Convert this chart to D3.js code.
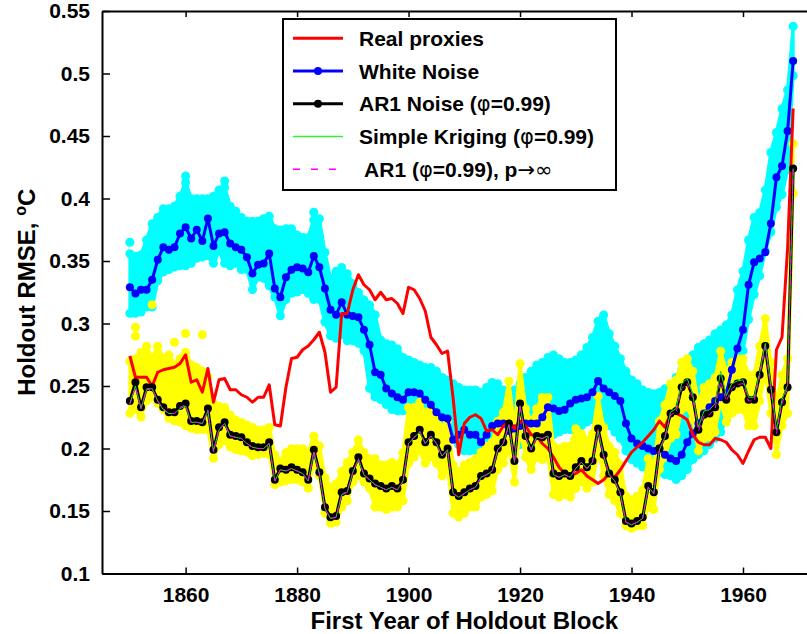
<!DOCTYPE html>
<html>
<head>
<meta charset="utf-8">
<script src="https://cdn.jsdelivr.net/npm/d3@7"></script>
<style>
body { margin: 0; background: #fff; }
svg { display: block; font-family: "Liberation Sans", Arial, Helvetica, sans-serif; font-weight: bold; }
</style>
</head>
<body>
<svg id="chart" width="807" height="634"></svg>
<script>
// first year of each holdout block
const years = d3.range(1850, 1970)

const realProxies = [
    0.274, 0.257, 0.257, 0.257, 0.250, 0.261, 0.263, 0.264, 0.265, 0.268,
    0.275, 0.253, 0.255, 0.245, 0.264, 0.237, 0.255, 0.256, 0.247, 0.247,
    0.243, 0.241, 0.237, 0.241, 0.241, 0.251, 0.219, 0.218, 0.249, 0.272,
    0.273, 0.279, 0.282, 0.287, 0.293, 0.277, 0.245, 0.249, 0.308, 0.308,
    0.327, 0.339, 0.331, 0.327, 0.319, 0.325, 0.319, 0.320, 0.316, 0.308,
    0.329, 0.327, 0.320, 0.310, 0.289, 0.283, 0.276, 0.278, 0.240, 0.195,
    0.220, 0.225, 0.227, 0.224, 0.214, 0.215, 0.211, 0.218, 0.222, 0.216,
    0.222, 0.218, 0.211, 0.210, 0.204, 0.200, 0.193, 0.185, 0.180, 0.178,
    0.180, 0.183, 0.178, 0.175, 0.172, 0.175, 0.180, 0.177, 0.183, 0.190,
    0.197, 0.201, 0.205, 0.210, 0.215, 0.222, 0.217, 0.228, 0.228, 0.226,
    0.223, 0.211, 0.205, 0.203, 0.203, 0.208, 0.207, 0.205, 0.199, 0.195,
    0.188, 0.198, 0.207, 0.209, 0.209, 0.200, 0.279, 0.289, 0.360, 0.472
]

const whiteNoise = [
    0.329, 0.324, 0.327, 0.327, 0.335, 0.351, 0.361, 0.359, 0.361, 0.372,
    0.377, 0.368, 0.375, 0.366, 0.384, 0.362, 0.372, 0.373, 0.364, 0.361,
    0.359, 0.353, 0.340, 0.347, 0.348, 0.356, 0.328, 0.321, 0.337, 0.343,
    0.345, 0.344, 0.341, 0.354, 0.345, 0.328, 0.311, 0.307, 0.317, 0.307,
    0.306, 0.305, 0.295, 0.283, 0.261, 0.259, 0.248, 0.244, 0.241, 0.239,
    0.245, 0.245, 0.244, 0.239, 0.235, 0.229, 0.225, 0.224, 0.207, 0.211,
    0.215, 0.211, 0.211, 0.205, 0.211, 0.218, 0.220, 0.220, 0.214, 0.216,
    0.218, 0.220, 0.220, 0.220, 0.225, 0.233, 0.232, 0.230, 0.231, 0.236,
    0.239, 0.240, 0.241, 0.245, 0.254, 0.248, 0.245, 0.242, 0.238, 0.220,
    0.208, 0.204, 0.202, 0.200, 0.198, 0.200, 0.195, 0.192, 0.190, 0.195,
    0.205, 0.212, 0.220, 0.228, 0.233, 0.238, 0.241, 0.244, 0.263, 0.280,
    0.295, 0.331, 0.349, 0.352, 0.357, 0.380, 0.417, 0.426, 0.454, 0.510
]

const ar1Noise = [
    0.238, 0.253, 0.233, 0.249, 0.249, 0.239, 0.233, 0.229, 0.229, 0.234,
    0.236, 0.222, 0.222, 0.221, 0.232, 0.199, 0.217, 0.221, 0.211, 0.210,
    0.209, 0.205, 0.202, 0.201, 0.201, 0.205, 0.175, 0.184, 0.183, 0.185,
    0.183, 0.181, 0.175, 0.199, 0.181, 0.153, 0.145, 0.146, 0.165, 0.166,
    0.182, 0.193, 0.180, 0.176, 0.172, 0.170, 0.168, 0.170, 0.168, 0.175,
    0.205, 0.210, 0.215, 0.205, 0.211, 0.205, 0.195, 0.200, 0.165, 0.162,
    0.165, 0.168, 0.170, 0.178, 0.180, 0.183, 0.200, 0.205, 0.220, 0.190,
    0.236, 0.210, 0.200, 0.210, 0.209, 0.211, 0.180, 0.178, 0.180, 0.178,
    0.185, 0.190, 0.185, 0.190, 0.216, 0.195, 0.180, 0.175, 0.165, 0.142,
    0.140, 0.142, 0.145, 0.170, 0.165, 0.200, 0.210, 0.228, 0.230, 0.249,
    0.253, 0.241, 0.215, 0.227, 0.228, 0.233, 0.256, 0.239, 0.249, 0.252,
    0.253, 0.239, 0.239, 0.259, 0.282, 0.247, 0.213, 0.237, 0.249, 0.424
]

const kriging = [
    0.236, 0.250, 0.232, 0.247, 0.248, 0.238, 0.231, 0.228, 0.228, 0.232,
    0.234, 0.221, 0.221, 0.220, 0.230, 0.198, 0.215, 0.220, 0.210, 0.209,
    0.208, 0.204, 0.201, 0.200, 0.200, 0.204, 0.174, 0.183, 0.182, 0.184,
    0.182, 0.180, 0.174, 0.197, 0.180, 0.152, 0.144, 0.145, 0.163, 0.165,
    0.181, 0.191, 0.179, 0.175, 0.171, 0.169, 0.167, 0.169, 0.167, 0.174,
    0.204, 0.209, 0.213, 0.204, 0.210, 0.204, 0.194, 0.199, 0.164, 0.161,
    0.164, 0.167, 0.169, 0.177, 0.179, 0.182, 0.199, 0.204, 0.219, 0.189,
    0.234, 0.209, 0.199, 0.209, 0.208, 0.210, 0.179, 0.177, 0.179, 0.177,
    0.184, 0.189, 0.184, 0.189, 0.214, 0.194, 0.179, 0.174, 0.164, 0.141,
    0.139, 0.141, 0.144, 0.169, 0.164, 0.199, 0.209, 0.229, 0.232, 0.252,
    0.256, 0.243, 0.217, 0.230, 0.231, 0.236, 0.262, 0.242, 0.252, 0.254,
    0.255, 0.241, 0.241, 0.261, 0.284, 0.250, 0.215, 0.239, 0.251, 0.424
]

const ar1Limit = [
    0.235, 0.249, 0.232, 0.248, 0.248, 0.238, 0.232, 0.228, 0.228, 0.233,
    0.235, 0.221, 0.221, 0.220, 0.231, 0.197, 0.216, 0.220, 0.210, 0.209,
    0.208, 0.204, 0.201, 0.200, 0.200, 0.204, 0.174, 0.183, 0.182, 0.184,
    0.182, 0.180, 0.174, 0.198, 0.180, 0.152, 0.144, 0.145, 0.164, 0.165,
    0.181, 0.192, 0.179, 0.175, 0.171, 0.169, 0.167, 0.169, 0.167, 0.174,
    0.204, 0.209, 0.214, 0.204, 0.210, 0.204, 0.194, 0.199, 0.164, 0.161,
    0.164, 0.167, 0.169, 0.177, 0.179, 0.182, 0.199, 0.204, 0.219, 0.189,
    0.235, 0.209, 0.199, 0.209, 0.208, 0.210, 0.179, 0.177, 0.179, 0.177,
    0.184, 0.189, 0.184, 0.189, 0.215, 0.194, 0.179, 0.174, 0.164, 0.141,
    0.139, 0.141, 0.144, 0.169, 0.164, 0.199, 0.209, 0.227, 0.229, 0.248,
    0.252, 0.240, 0.214, 0.226, 0.227, 0.232, 0.254, 0.238, 0.248, 0.251,
    0.252, 0.238, 0.238, 0.258, 0.281, 0.246, 0.212, 0.236, 0.248, 0.423
]

// spread of the white noise simulations (cyan cloud)
const whiteHi = [
    0.359, 0.357, 0.358, 0.370, 0.383, 0.388, 0.395, 0.395, 0.397, 0.405,
    0.416, 0.403, 0.403, 0.403, 0.403, 0.405, 0.410, 0.412, 0.397, 0.393,
    0.388, 0.385, 0.385, 0.385, 0.387, 0.389, 0.379, 0.378, 0.379, 0.379,
    0.374, 0.372, 0.372, 0.386, 0.387, 0.360, 0.339, 0.345, 0.348, 0.343,
    0.335, 0.328, 0.322, 0.318, 0.310, 0.290, 0.287, 0.286, 0.283, 0.276,
    0.274, 0.272, 0.270, 0.268, 0.268, 0.265, 0.260, 0.258, 0.255, 0.252,
    0.250, 0.250, 0.250, 0.248, 0.252, 0.256, 0.255, 0.250, 0.245, 0.250,
    0.255, 0.260, 0.265, 0.270, 0.272, 0.276, 0.278, 0.275, 0.272, 0.272,
    0.274, 0.278, 0.284, 0.292, 0.305, 0.310, 0.295, 0.285, 0.275, 0.265,
    0.258, 0.255, 0.250, 0.248, 0.247, 0.248, 0.251, 0.250, 0.260, 0.266,
    0.272, 0.278, 0.284, 0.287, 0.290, 0.295, 0.298, 0.302, 0.310, 0.330,
    0.345, 0.370, 0.388, 0.392, 0.410, 0.440, 0.456, 0.475, 0.490, 0.541
]
const whiteLo = [
    0.305, 0.305, 0.306, 0.310, 0.310, 0.331, 0.338, 0.340, 0.342, 0.343,
    0.343, 0.345, 0.349, 0.350, 0.351, 0.345, 0.355, 0.345, 0.343, 0.345,
    0.340, 0.340, 0.324, 0.334, 0.333, 0.327, 0.318, 0.303, 0.316, 0.321,
    0.322, 0.324, 0.321, 0.316, 0.316, 0.298, 0.287, 0.285, 0.288, 0.283,
    0.283, 0.281, 0.275, 0.245, 0.238, 0.236, 0.232, 0.228, 0.227, 0.227,
    0.229, 0.229, 0.226, 0.222, 0.220, 0.218, 0.215, 0.210, 0.205, 0.200,
    0.195, 0.195, 0.195, 0.190, 0.190, 0.192, 0.195, 0.198, 0.198, 0.200,
    0.200, 0.202, 0.203, 0.203, 0.205, 0.205, 0.208, 0.210, 0.212, 0.212,
    0.214, 0.215, 0.218, 0.220, 0.225, 0.222, 0.215, 0.210, 0.205, 0.195,
    0.188, 0.185, 0.182, 0.180, 0.180, 0.178, 0.176, 0.175, 0.172, 0.175,
    0.180, 0.188, 0.192, 0.195, 0.200, 0.205, 0.210, 0.220, 0.235, 0.250,
    0.275, 0.300, 0.320, 0.335, 0.355, 0.370, 0.390, 0.400, 0.420, 0.495
]

// spread of the AR1 simulations (yellow cloud)
const ar1Hi = [
    0.273, 0.275, 0.280, 0.285, 0.275, 0.285, 0.275, 0.278, 0.270, 0.275,
    0.280, 0.270, 0.268, 0.265, 0.260, 0.239, 0.237, 0.236, 0.230, 0.226,
    0.224, 0.222, 0.220, 0.218, 0.218, 0.220, 0.198, 0.193, 0.200, 0.203,
    0.203, 0.203, 0.200, 0.213, 0.205, 0.180, 0.172, 0.175, 0.185, 0.192,
    0.200, 0.210, 0.200, 0.195, 0.195, 0.190, 0.190, 0.192, 0.190, 0.200,
    0.236, 0.236, 0.240, 0.232, 0.235, 0.228, 0.220, 0.225, 0.190, 0.185,
    0.190, 0.192, 0.195, 0.200, 0.205, 0.208, 0.225, 0.232, 0.257, 0.220,
    0.271, 0.235, 0.225, 0.235, 0.244, 0.244, 0.205, 0.203, 0.205, 0.205,
    0.219, 0.215, 0.210, 0.215, 0.245, 0.220, 0.205, 0.200, 0.190, 0.165,
    0.162, 0.165, 0.170, 0.195, 0.190, 0.225, 0.238, 0.255, 0.258, 0.272,
    0.275, 0.265, 0.240, 0.252, 0.255, 0.260, 0.281, 0.265, 0.272, 0.275,
    0.275, 0.262, 0.262, 0.285, 0.307, 0.272, 0.240, 0.262, 0.275, 0.447
]
const ar1Lo = [
    0.225, 0.228, 0.222, 0.235, 0.238, 0.233, 0.228, 0.221, 0.219, 0.218,
    0.215, 0.213, 0.212, 0.212, 0.212, 0.189, 0.200, 0.203, 0.198, 0.196,
    0.195, 0.194, 0.191, 0.192, 0.193, 0.192, 0.168, 0.170, 0.171, 0.172,
    0.172, 0.170, 0.165, 0.185, 0.175, 0.145, 0.137, 0.138, 0.150, 0.155,
    0.170, 0.175, 0.170, 0.165, 0.150, 0.150, 0.148, 0.150, 0.150, 0.155,
    0.185, 0.190, 0.195, 0.185, 0.190, 0.185, 0.175, 0.180, 0.145, 0.142,
    0.145, 0.150, 0.150, 0.158, 0.160, 0.163, 0.180, 0.185, 0.198, 0.170,
    0.212, 0.190, 0.180, 0.190, 0.188, 0.190, 0.160, 0.158, 0.160, 0.158,
    0.165, 0.170, 0.165, 0.170, 0.195, 0.175, 0.160, 0.155, 0.145, 0.135,
    0.133, 0.135, 0.135, 0.150, 0.148, 0.180, 0.190, 0.205, 0.208, 0.228,
    0.230, 0.220, 0.195, 0.205, 0.206, 0.210, 0.235, 0.218, 0.225, 0.228,
    0.228, 0.215, 0.215, 0.235, 0.258, 0.225, 0.192, 0.215, 0.225, 0.401
]

// single simulations sticking out of the clouds: [year, RMSE]
const whiteOutliers = [[1850, 0.365], [1860, 0.418], [1867, 0.414], [1883, 0.389]]
const ar1Outliers = [[1851, 0.297], [1851, 0.290], [1854, 0.315], [1858, 0.285], [1860, 0.292], [1863, 0.291]]

const yTicks = [0.1, 0.15, 0.2, 0.25, 0.3, 0.35, 0.4, 0.45, 0.5, 0.55]
const xTicks = [1860, 1880, 1900, 1920, 1940, 1960]

const legendItems = [
    { label: [["Real proxies", false]], color: "#ff0000", width: 3, marker: false, dash: null },
    { label: [["White Noise", false]], color: "#0000ff", width: 3, marker: true, dash: null },
    { label: [["AR1 Noise (", false], ["φ", true], ["=0.99)", false]], color: "#000000", width: 3, marker: true, dash: null },
    { label: [["Simple Kriging (", false], ["φ", true], ["=0.99)", false]], color: "#33ee33", width: 1.5, marker: false, dash: null },
    { label: [[" AR1 (", false], ["φ", true], ["=0.99), p", false], ["→∞", true]], color: "#ff00ff", width: 1.5, marker: false, dash: "7,11" }
]

const svg = d3.select("#chart")

const x = d3.scaleLinear().domain([1845, 1975]).range([102, 826.6])
const y = d3.scaleLinear().domain([0.1, 0.55]).range([573.5, 11])

svg.append("clipPath").attr("id", "plot-clip")
    .append("rect")
    .attr("x", x(1845)).attr("y", y(0.55))
    .attr("width", x(1975) - x(1845)).attr("height", y(0.1) - y(0.55))

const plot = svg.append("g").attr("clip-path", "url(#plot-clip)")

function drawCloud(lo, hi, outliers, color) {
    const area = d3.area()
        .x((d, i) => x(years[i]))
        .y0((d, i) => y(lo[i]) - 3)
        .y1((d, i) => y(hi[i]) + 3)
    plot.append("path")
        .datum(lo)
        .attr("d", area)
        .attr("fill", color)
        .attr("stroke", color)
        .attr("stroke-width", 3)
        .attr("stroke-linejoin", "round")
    // the extreme runs of every year, drawn as dots to get the ragged edge
    const edges = lo.map((d, i) => [years[i], d]).concat(hi.map((d, i) => [years[i], d]), outliers)
    plot.append("g")
        .selectAll("circle")
        .data(edges)
        .join("circle")
        .attr("cx", d => x(d[0]))
        .attr("cy", (d, i) => y(d[1]) + (i < lo.length ? -4 : i < 2 * lo.length ? 4 : 0))
        .attr("r", 4.5)
        .attr("fill", color)
}

drawCloud(whiteLo, whiteHi, whiteOutliers, "#00ffff")
drawCloud(ar1Lo, ar1Hi, ar1Outliers, "#ffff00")

const line = d3.line()
    .x((d, i) => x(years[i]))
    .y(d => y(d))

function drawSeries(values, color, width, marker, dash) {
    plot.append("path")
        .datum(values)
        .attr("d", line)
        .attr("fill", "none")
        .attr("stroke", color)
        .attr("stroke-width", width)
        .attr("stroke-linejoin", "round")
        .attr("stroke-dasharray", dash)
    if (marker) {
        plot.append("g")
            .selectAll("circle")
            .data(values)
            .join("circle")
            .attr("cx", (d, i) => x(years[i]))
            .attr("cy", d => y(d))
            .attr("r", 4)
            .attr("fill", color)
    }
}

drawSeries(whiteNoise, "#0000ff", 3, true, null)
drawSeries(realProxies, "#ff0000", 3, false, null)
drawSeries(ar1Noise, "#000000", 3, true, null)
drawSeries(kriging, "#22dd22", 1, false, null)
drawSeries(ar1Limit, "#ff00ff", 1, false, "6,4")

// axes (ticks point inward, like the original)
const axisStyle = g => {
    g.select(".domain").attr("stroke-width", 2)
    g.selectAll(".tick line").attr("stroke-width", 1.5)
    g.selectAll(".tick text").attr("fill", "#000")
        .style("font-size", "21px").style("font-weight", "bold")
    g.attr("font-family", null).attr("font-size", null)
}

svg.append("g")
    .attr("transform", `translate(0,${y(0.1)})`)
    .call(d3.axisBottom(x).tickValues(xTicks).tickSizeInner(-6).tickSizeOuter(0).tickPadding(13.5).tickFormat(d3.format("d")))
    .call(axisStyle)

svg.append("g")
    .attr("transform", `translate(0,${y(0.55)})`)
    .call(d3.axisTop(x).tickValues(xTicks).tickSizeInner(-6).tickSizeOuter(0).tickFormat(""))
    .call(axisStyle)

svg.append("g")
    .attr("transform", `translate(${x(1845)},0)`)
    .call(d3.axisLeft(y).tickValues(yTicks).tickSizeInner(-8).tickSizeOuter(0).tickPadding(12).tickFormat(d => String(+d.toFixed(2))))
    .call(axisStyle)

svg.append("g")
    .attr("transform", `translate(${x(1975)},0)`)
    .call(d3.axisRight(y).tickValues(yTicks).tickSizeInner(-8).tickSizeOuter(0).tickFormat(""))
    .call(axisStyle)

// axis titles
svg.append("text")
    .attr("x", x(1910))
    .attr("y", 629)
    .attr("text-anchor", "middle")
    .style("font-size", "24px")
    .text("First Year of Holdout Block")

const yTitle = svg.append("text")
    .attr("transform", `translate(35,${(y(0.1) + y(0.55)) / 2}) rotate(-90)`)
    .attr("text-anchor", "middle")
    .style("font-size", "24px")
yTitle.append("tspan").text("Holdout RMSE, ")
yTitle.append("tspan").attr("dy", -9).style("font-size", "16px").text("o")
yTitle.append("tspan").attr("dy", 9).text("C")

// legend
const legend = svg.append("g").attr("transform", "translate(283,19)")
legend.append("rect")
    .attr("width", 333)
    .attr("height", 171)
    .attr("fill", "#fff")
    .attr("stroke", "#000")
    .attr("stroke-width", 2)

const rows = legend.selectAll("g.row")
    .data(legendItems)
    .join("g")
    .attr("class", "row")
    .attr("transform", (d, i) => `translate(0,${19.3 + i * 32.75})`)

rows.append("line")
    .attr("x1", 10).attr("x2", 60)
    .attr("stroke", d => d.color)
    .attr("stroke-width", d => d.width)
    .attr("stroke-dasharray", d => d.dash)

rows.filter(d => d.marker)
    .append("circle")
    .attr("cx", 35)
    .attr("r", 4)
    .attr("fill", d => d.color)

rows.append("text")
    .attr("x", 76)
    .attr("y", 7.5)
    .attr("xml:space", "preserve")
    .style("font-size", "21px")
    .selectAll("tspan")
    .data(d => d.label)
    .join("tspan")
    .style("font-weight", d => d[1] ? "normal" : "bold")
    .style("font-family", d => d[1] ? "'DejaVu Sans', sans-serif" : null)
    .text(d => d[0])
</script>
</body>
</html>
